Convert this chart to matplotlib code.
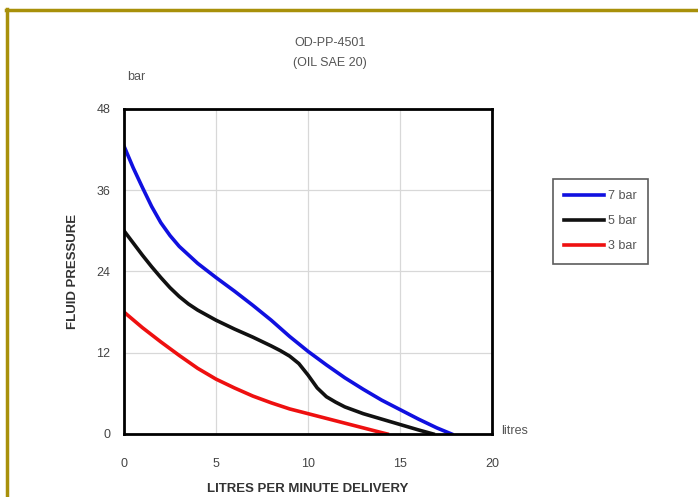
import matplotlib
matplotlib.use("Agg")
import matplotlib.pyplot as plt
from matplotlib.lines import Line2D

# flow (litres/min) vs pressure (bar)
blue_x = [0, 0.5, 1, 1.5, 2, 2.5, 3, 4, 5, 6, 7, 8, 9, 10, 11, 12, 13, 14, 15, 16, 17, 17.8]
blue_y = [42.5, 39.3, 36.4, 33.6, 31.2, 29.3, 27.7, 25.2, 23.1, 21.1, 19.0, 16.8, 14.4, 12.2, 10.2, 8.3, 6.6, 5.0, 3.6, 2.2, 0.9, 0]

black_x = [0, 0.5, 1, 1.5, 2, 2.5, 3, 3.5, 4, 5, 6, 7, 8, 8.5, 9, 9.5, 10, 10.5, 11, 11.5, 12, 13, 14, 15, 16, 16.8]
black_y = [30.0, 28.2, 26.4, 24.7, 23.1, 21.6, 20.3, 19.2, 18.3, 16.8, 15.5, 14.3, 13.0, 12.3, 11.5, 10.4, 8.7, 6.8, 5.5, 4.7, 4.0, 3.0, 2.2, 1.4, 0.6, 0]

red_x = [0, 1, 2, 3, 4, 5, 6, 7, 8, 9, 10, 11, 12, 13, 14, 14.3]
red_y = [18.0, 15.7, 13.6, 11.6, 9.7, 8.1, 6.8, 5.6, 4.6, 3.7, 3.0, 2.3, 1.6, 0.9, 0.2, 0]

series_labels = ["7 bar", "5 bar", "3 bar"]
x_ticks = [0, 5, 10, 15, 20]
y_ticks = [0, 12, 24, 36, 48]

plt.rcParams['font.family'] = ['Liberation Sans', 'DejaVu Sans']

fig = plt.figure(figsize=(6.98, 4.97), dpi=100)
fig.patch.set_facecolor("white")
ax = fig.add_axes([0.1777, 0.1268, 0.5272, 0.654])

ax.plot(blue_x, blue_y, color="#1010e0", lw=2.6, label=series_labels[0])
ax.plot(black_x, black_y, color="#111111", lw=2.6, label=series_labels[1])
ax.plot(red_x, red_y, color="#ee1010", lw=2.6, label=series_labels[2])

ax.set_xlim(0, 20)
ax.set_ylim(0, 48)
ax.set_xticks(x_ticks)
ax.set_yticks(y_ticks)
ax.tick_params(axis="y", length=0, pad=10, labelsize=9, colors="#444444")
ax.tick_params(axis="x", length=0, pad=17, labelsize=9, colors="#444444")
ax.grid(True, color="#d8d8d8", lw=0.9)
for sp in ax.spines.values():
    sp.set_linewidth(2)
    sp.set_color("black")

ax.set_xlabel("LITRES PER MINUTE DELIVERY", fontsize=9.5, fontweight="bold",
              color="#333333", labelpad=10)
ax.set_ylabel("FLUID PRESSURE", fontsize=9.5, fontweight="bold",
              color="#333333", labelpad=12)

fig.text(0.473, 0.913, "OD-PP-4501", ha="center", va="center", fontsize=9, color="#555555")
fig.text(0.473, 0.874, "(OIL SAE 20)", ha="center", va="center", fontsize=9, color="#555555")
fig.text(0.195, 0.845, "bar", ha="center", va="center", fontsize=9, color="#555555")
fig.text(0.718, 0.132, "litres", ha="left", va="center", fontsize=9, color="#555555")

leg = ax.legend(loc="upper left", bbox_to_anchor=(1.165, 0.785), frameon=True,
                fancybox=False, edgecolor="#333333", fontsize=9,
                handlelength=3.2, handletextpad=0.3, labelspacing=1.05,
                borderpad=0.9, borderaxespad=0)
leg.get_frame().set_linewidth(1.2)
for t in leg.get_texts():
    t.set_color("#555555")

# gold frame on top and left edges
gold = "#a8900a"
fig.add_artist(Line2D([0.009, 1.0], [0.980, 0.980], color=gold, lw=2.5, transform=fig.transFigure))
fig.add_artist(Line2D([0.010, 0.010], [0.0, 0.981], color=gold, lw=2.5, transform=fig.transFigure))

fig.savefig("out.png", dpi=100)
